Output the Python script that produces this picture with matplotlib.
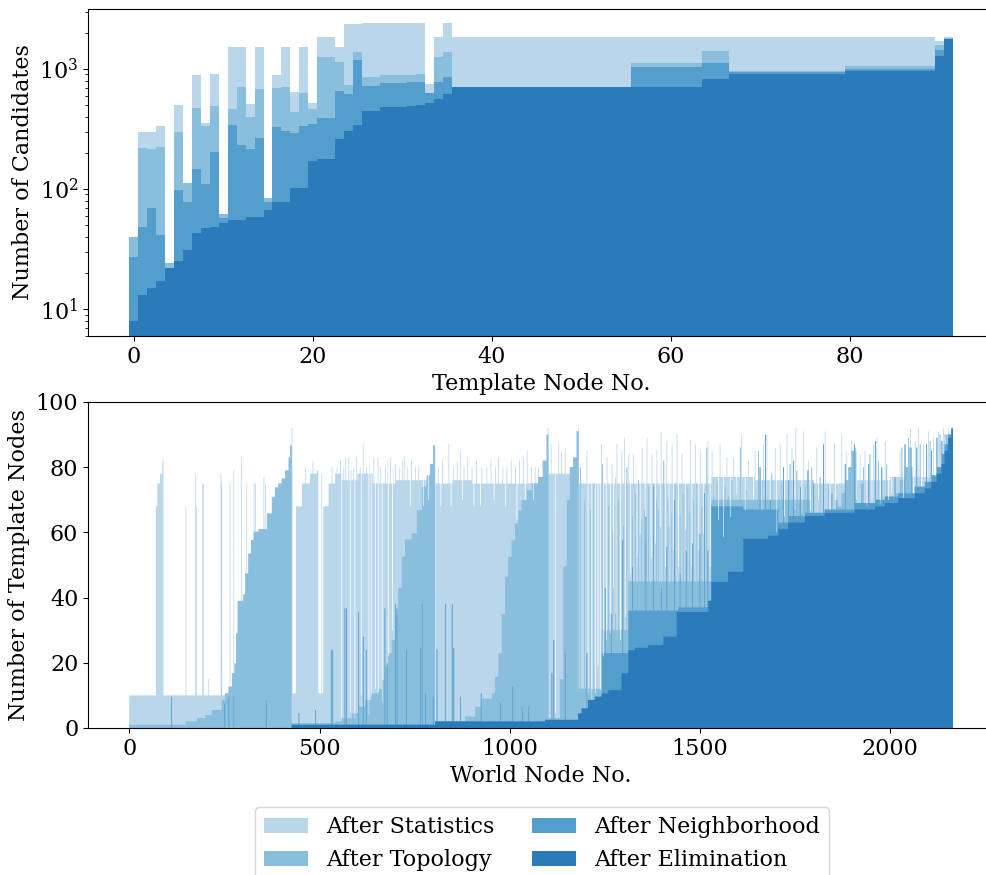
import numpy as np
import matplotlib
matplotlib.use("Agg")
import matplotlib.pyplot as plt

plt.rcParams['font.family'] = ['DejaVu Serif']
plt.rcParams['mathtext.fontset'] = 'dejavuserif'
plt.rcParams['font.size'] = 16

# colours (seaborn "Blues" palette entries 1-4)
colors = ['#bad6eb', '#89bedc', '#539ecd', '#2b7bba']
labels = ['After Statistics', 'After Topology', 'After Neighborhood', 'After Elimination']

# ---------------- top chart: candidates per template node ----------------
tmpl_stats = [40, 300, 300, 335, 24, 500, 113, 897, 355, 914, 62, 1535, 1535, 511, 1535, 84,
              897, 1535, 640, 1535, 518, 1836, 1836, 1535, 2371, 2371, 2400, 2400, 2400, 2400,
              2400, 2400, 2400, 750, 1836, 2400] + [1836] * 20 + [1836] * 8 + [1836] * 3 \
             + [1836] * 13 + [1836] * 10 + [1722, 1836]
tmpl_topo = [40, 221, 217, 224, 24, 298, 113, 476, 335, 495, 62, 467, 703, 396, 676, 84,
             698, 710, 441, 627, 461, 1250, 1250, 1137, 735, 1393, 853, 853, 886, 886,
             886, 886, 908, 635, 1250, 1393] + [710] * 20 + [1130] * 8 + [1413] * 3 \
            + [962] * 13 + [1059] * 10 + [1585, 1800]
tmpl_neigh = [27, 48, 70, 41, 22, 98, 78, 147, 111, 205, 57, 341, 234, 214, 268, 78,
              330, 303, 294, 335, 346, 391, 391, 660, 619, 1189, 726, 726, 760, 760,
              760, 779, 779, 635, 783, 853] + [705] * 20 + [1033] * 8 + [1114] * 3 \
             + [935] * 13 + [1000] * 10 + [1438, 1790]
tmpl_elim = [8, 13, 15, 17, 22, 25, 31, 43, 47, 48, 52, 55, 55, 58, 58, 67,
             78, 78, 101, 101, 171, 179, 179, 261, 306, 341, 447, 447, 480, 480,
             480, 492, 501, 518, 566, 619] + [703] * 20 + [713] * 8 + [826] * 3 \
            + [914] * 13 + [962] * 10 + [1283, 1766]

# ---------------- bottom chart: template nodes per world node ----------------
n_world = 2165

# step levels (start node, value)
stat_steps = [(0, 10), (70, 68), (74, 75), (81, 78), (87, 82), (90, 10), (427, 10.6), (438, 68),
              (454, 75), (475, 78), (493, 79), (497, 10.6), (510, 68), (524, 75), (541, 78),
              (560, 76), (600, 78), (640, 75), (700, 76), (804, 2), (805, 75), (850, 76),
              (900, 75), (1102, 78), (1180, 75), (1530, 77), (1644, 76), (1800, 75),
              (1900, 76), (2000, 77)]
topo_steps = [(0, 1), (148, 2), (178, 3), (200, 4), (217, 5.5), (243, 8.5), (252, 10.6),
              (261, 12.7), (270, 16.8), (277, 19.8), (281, 29), (285, 39), (300, 41),
              (305, 47.4), (313, 53.5), (320, 57.6), (327, 60.2), (340, 61), (362, 65.8),
              (375, 70.9), (383, 73.8), (392, 75), (401, 76.5), (410, 79), (419, 83),
              (423, 86.7), (427, 1.5), (541, 2), (559, 3), (585, 4.5), (602, 6.5), (620, 8.6),
              (637, 10.6), (655, 12), (664, 14.7), (672, 18.8), (681, 22.9), (690, 27),
              (699, 35), (707, 43), (716, 52.5), (725, 57.8), (742, 59.7), (756, 66.8),
              (769, 74), (782, 77.5), (791, 81), (799, 86.7), (804, 1.5), (883, 3.5),
              (909, 6.5), (926, 9), (953, 10.6), (961, 15.7), (970, 22.9), (979, 35),
              (988, 46.4), (996, 52.5), (1005, 57.6), (1014, 62.7), (1023, 66.8),
              (1031, 69.9), (1045, 72.9), (1058, 75), (1075, 77), (1088, 82), (1097, 90),
              (1102, 3), (1132, 15), (1141, 49.6), (1150, 70), (1158, 80), (1167, 83),
              (1176, 91), (1181, 12), (1242, 30), (1312, 45), (1530, 70), (1790, 66),
              (1863, 68), (1872, 72), (1881, 76), (1890, 80), (1898, 85), (1912, 68),
              (2012, 72), (2025, 76), (2038, 80), (2050, 86), (2057, 70)]
neigh_steps = [(0, 0), (1242, 23), (1312, 36), (1443, 37), (1522, 39), (1530, 68), (1614, 67),
               (1706, 63), (1732, 65), (1776, 66), (1828, 67), (1907, 69), (1960, 70),
               (1986, 71), (2021, 72), (2065, 74), (2091, 75.5), (2108, 77.5), (2122, 80),
               (2135, 84), (2143, 87), (2152, 90), (2161, 92)]
elim_steps = [(0, 0), (427, 1), (804, 2), (1093, 2.5), (1180, 4.5), (1189, 6), (1206, 8.6),
              (1224, 9.6), (1242, 10.6), (1259, 11.6), (1294, 16.8), (1312, 23.9), (1329, 24.6),
              (1364, 25.4), (1404, 28), (1439, 35.6), (1522, 39), (1530, 44.8), (1574, 47.9),
              (1614, 58), (1679, 59), (1706, 61), (1732, 63), (1776, 65), (1828, 66), (1907, 67),
              (1960, 68), (1986, 69), (2021, 70.5), (2065, 72), (2091, 73.5), (2108, 75.5),
              (2122, 78), (2135, 81), (2143, 85), (2152, 89), (2161, 91.5)]

# narrow spikes (node, value)
stat_spikes = [(148, 68), (173, 78), (176, 68), (192, 75), (194, 75), (208, 15), (240, 78),
               (242, 75), (264, 75), (274, 79), (294, 83), (308, 75), (327, 75), (331, 75),
               (353, 77), (357, 75), (427, 92), (462, 80), (482, 82), (505, 78), (532, 80),
               (545, 80), (554, 82), (563, 80), (568, 83), (576, 83), (582, 79), (589, 80),
               (597, 83), (606, 80), (614, 87), (623, 80), (630, 82), (642, 83), (653, 83),
               (660, 80), (672, 80), (679, 82), (686, 83), (692, 80), (699, 81), (710, 80),
               (717, 82), (723, 83), (731, 80), (741, 82), (751, 80), (760, 80), (812, 80),
               (822, 82), (839, 87), (852, 80), (861, 82), (869, 85), (879, 80), (889, 83),
               (900, 80), (912, 82), (926, 80), (939, 80), (950, 82), (962, 80), (970, 83),
               (981, 80), (992, 80), (1003, 82), (1014, 80), (1025, 82), (1036, 83),
               (1045, 85), (1056, 80), (1066, 80), (1075, 80), (1086, 82),
               (1100, 92), (1108, 87), (1128, 87), (1135, 85), (1145, 86), (1180, 92),
               (1202, 85), (1240, 87), (1255, 83), (1268, 81), (1281, 87), (1294, 85),
               (1301, 89), (1312, 84), (1325, 84), (1347, 86), (1360, 89), (1373, 84),
               (1386, 85), (1397, 91), (1412, 88), (1426, 87), (1439, 90), (1452, 84),
               (1474, 88), (1487, 87), (1500, 85), (1520, 88), (1531, 85), (1552, 87),
               (1570, 83), (1588, 83), (1609, 90), (1627, 82), (1644, 85),
               (1666, 87), (1675, 90), (1697, 86), (1710, 87), (1728, 90), (1741, 86),
               (1751, 92), (1771, 91), (1784, 82), (1806, 86), (1828, 91), (1853, 87),
               (1872, 90), (1885, 85), (1898, 88), (1920, 84), (1933, 85), (1955, 87),
               (1964, 89), (1986, 88), (2003, 87), (2025, 85), (2052, 92), (2065, 88),
               (2073, 92), (2087, 87), (2100, 91), (2113, 89), (2126, 91), (2139, 92),
               (2152, 92)]
topo_spikes = [(1110, 17), (1114, 27),
               (1185, 80), (1196, 70), (1211, 67), (1220, 75), (1243, 81), (1259, 68),
               (1270, 60), (1277, 77), (1285, 70), (1298, 62), (1307, 80), (1322, 65),
               (1330, 72), (1338, 76), (1346, 64), (1353, 67), (1364, 74), (1377, 75),
               (1385, 70), (1390, 67), (1404, 82), (1415, 70), (1425, 66), (1434, 75),
               (1447, 65), (1455, 72), (1465, 74), (1472, 66), (1482, 70), (1491, 75),
               (1504, 68), (1517, 86), (1535, 71), (1544, 75), (1557, 67), (1565, 74),
               (1574, 71), (1583, 76), (1592, 70), (1605, 86), (1622, 73), (1636, 70),
               (1653, 85), (1664, 76), (1688, 78), (1714, 75), (1736, 81), (1754, 79),
               (1776, 74), (1793, 80), (1815, 77), (1837, 75), (1907, 86), (1929, 80),
               (1946, 84), (1968, 82), (1990, 81), (2030, 86), (2047, 89), (2078, 87),
               (2104, 88), (2130, 90), (2143, 90)]
neigh_spikes = [(110, 9.6), (250, 7.6), (261, 9.6), (274, 9.6), (359, 8.6), (445, 4.5),
                (489, 5.5), (530, 24), (534, 24),
                (566, 36.7), (570, 36.7), (602, 35.6), (614, 28), (622, 24), (671, 36.7),
                (677, 19.8), (699, 38), (703, 36.7), (728, 24), (764, 24.5), (769, 38),
                (778, 10.6), (798, 9.6), (808, 24), (830, 38), (848, 38), (852, 24.5),
                (870, 9.6), (924, 10.6), (975, 7.6), (1007, 12.7), (1032, 6.5), (1049, 6.5),
                (1110, 16.8), (1115, 27), (1145, 23), (1202, 23), (1250, 43), (1266, 35),
                (1296, 57.6), (1322, 49.4), (1357, 64.8), (1377, 74), (1398, 43),
                (1412, 55.6), (1432, 70), (1447, 47.4), (1463, 54.5), (1480, 56.6),
                (1499, 59.6), (1511, 72), (1520, 54.5),
                (1657, 80), (1671, 90), (1684, 83), (1701, 85), (1719, 80), (1732, 76),
                (1745, 82), (1763, 74), (1783, 79), (1798, 75), (1824, 87), (1846, 72),
                (1859, 70), (1881, 81), (1905, 87), (1925, 75), (1942, 81), (1960, 88),
                (1977, 80), (1995, 85), (2012, 77), (2038, 87), (2056, 80), (2069, 86),
                (2082, 84), (2095, 87), (2108, 85), (2122, 89), (2135, 88), (2148, 90)]
# white gaps: every layer above elimination is cut down to this level
gaps = [(557, 3), (580, 5), (592, 3), (609, 10), (629, 4), (635, 10), (646, 12), (655, 11),
        (664, 8), (680, 22), (691, 30), (738, 68), (772, 68), (786, 70), (818, 68),
        (845, 68), (875, 70), (905, 68), (922, 68), (958, 70), (988, 68), (1018, 64),
        (1040, 70), (1062, 70),
        (1119, 4.5), (1205, 10.6), (1215, 8.6), (1224, 10.6), (1231, 18.8), (1237, 11.6),
        (1246, 21.9), (1253, 27), (1264, 29), (1272, 43), (1278, 35), (1290, 27), (1303, 34),
        (1316, 47.4), (1334, 52.5), (1342, 59.6), (1355, 57.6), (1371, 52.5), (1382, 56.6),
        (1395, 61.7), (1408, 49.4), (1418, 61.7), (1430, 54.5), (1443, 49.4), (1461, 60.7),
        (1478, 49.4), (1496, 54.5), (1509, 59.6), (1526, 49.4), (1548, 63.7), (1561, 58.6),
        (1579, 64.7), (1596, 71.9), (1618, 66.8), (1640, 69.9),
        (1662, 66.8), (1684, 69.9), (1701, 60), (1721, 64.8), (1749, 66.8), (1767, 65.8),
        (1789, 66.8), (1811, 69.9), (1841, 66.8), (1855, 69.9), (1911, 69.9), (1938, 68),
        (1951, 69.9), (1973, 68.8), (1995, 69.9), (2003, 71.9), (2034, 69.9), (2060, 71.9),
        (2082, 74), (2117, 77)]


def from_steps(steps):
    arr = np.zeros(n_world)
    for start, val in steps:
        arr[start:] = val
    return arr


def add_spikes(arr, spikes):
    for node, val in spikes:
        arr[node:node + 2] = np.maximum(arr[node:node + 2], val)
    return arr


elim = from_steps(elim_steps)
neigh = add_spikes(np.maximum(from_steps(neigh_steps), elim), neigh_spikes)
topo = add_spikes(np.maximum(from_steps(topo_steps), neigh), topo_spikes)
topo = np.maximum(topo, neigh)
stats = add_spikes(np.maximum(from_steps(stat_steps), topo), stat_spikes)
stats = np.maximum(stats, topo)
for node, cap in gaps:
    for layer in (stats, topo, neigh):
        layer[node:node + 2] = np.minimum(layer[node:node + 2], cap)
neigh = np.maximum(neigh, elim)
topo = np.maximum(topo, neigh)
stats = np.maximum(stats, topo)

# ---------------- plotting ----------------
fig = plt.figure(figsize=(9.87, 8.75), dpi=100)
ax1 = fig.add_axes([0.0892, 0.616, 0.918, 0.3737])
ax2 = fig.add_axes([0.0892, 0.168, 0.918, 0.3726])

edges1 = np.arange(len(tmpl_stats) + 1) - 0.5
for vals, c, lab in zip([tmpl_stats, tmpl_topo, tmpl_neigh, tmpl_elim], colors, labels):
    ax1.stairs(vals, edges1, fill=True, color=c, baseline=1, label=lab, linewidth=0)
ax1.set_yscale('log')
ax1.set_ylim(5.96, 3160)
ax1.set_xlim(-5.1, 96.1)
ax1.set_xticks([0, 20, 40, 60, 80])
ax1.set_xlabel('Template Node No.')
ax1.set_ylabel('Number of Candidates')

edges2 = np.arange(n_world + 1) - 0.5
handles = []
for vals, c, lab in zip([stats, topo, neigh, elim], colors, labels):
    h = ax2.stairs(vals, edges2, fill=True, color=c, baseline=0, label=lab, linewidth=0)
    handles.append(h)
ax2.set_ylim(0, 100)
ax2.set_xlim(-108.75, 2272.75)
ax2.set_xticks([0, 500, 1000, 1500, 2000])
ax2.set_xlabel('World Node No.')
ax2.set_ylabel('Number of Template Nodes')

fig.legend(handles=handles, labels=labels, loc='upper center', ncol=2,
           bbox_to_anchor=(0.549, 0.0775), borderaxespad=0, columnspacing=1.7)

fig.savefig('out.png', dpi=100)
